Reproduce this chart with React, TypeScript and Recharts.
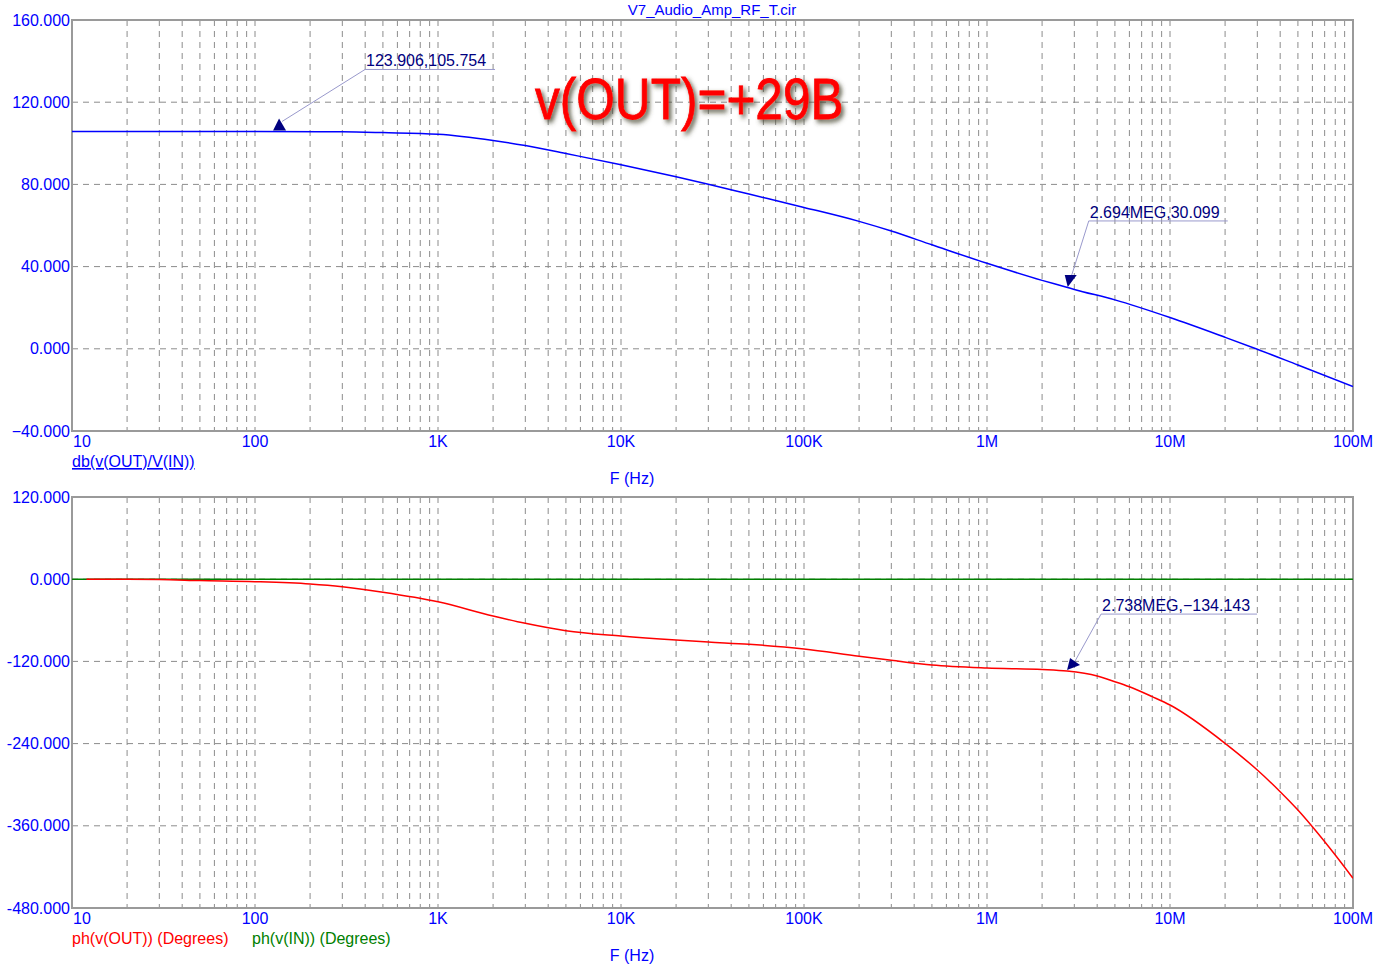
import {
  LineChart,
  Line,
  XAxis,
  YAxis,
  CartesianGrid,
  ReferenceArea,
  ReferenceDot,
} from "recharts";

// decades of the log frequency axis and their labels
const decadeTicks = [10, 100, 1e3, 1e4, 1e5, 1e6, 1e7, 1e8];
const decadeLabels = ["10", "100", "1K", "10K", "100K", "1M", "10M", "100M"];
const minorSteps = [1, 2, 3, 4, 5, 6, 7, 8, 9];

const gainTicks = [-40, 0, 40, 80, 120, 160];
const phaseTicks = [-480, -360, -240, -120, 0, 120];

// db(v(OUT)/V(IN))
const gainFreq = [
  10, 30, 100, 300, 500, 1e3, 2e3, 3e3, 5e3, 1e4, 2e4, 3e4, 5e4, 1e5, 2e5,
  3e5, 5e5, 1e6, 2e6, 2.694e6, 3e6, 5e6, 1e7, 2e7, 3e7, 5e7, 1e8,
];
const gainDb = [
  105.75, 105.75, 105.75, 105.6, 105.2, 104.4, 101.4, 98.9, 95.0, 89.6, 83.7,
  80.1, 75.3, 68.8, 62.0, 57.3, 50.6, 41.6, 33.3, 30.1, 28.9, 23.8, 15.2, 5.6,
  -0.2, -7.9, -18.4,
];

// ph(v(OUT))
const phaseFreq = [
  12, 30, 50, 100, 200, 300, 500, 1e3, 2e3, 3e3, 5e3, 1e4, 2e4, 3e4, 5e4, 1e5,
  2e5, 3e5, 5e5, 1e6, 2e6, 2.738e6, 4e6, 5e6, 6e6, 8e6, 1e7, 2e7, 3e7, 4e7,
  5e7, 6e7, 8e7, 1e8,
];
const phaseOut = [
  0, -0.5, -2, -3.6, -7, -11, -19, -33, -53.7, -64.4, -75.2, -82.9, -88.8,
  -91.7, -95, -101.9, -112.6, -118.4, -125.3, -129.7, -131.8, -134.1, -141.3,
  -149.6, -157, -171.5, -183.7, -239.6, -278.6, -310.2, -337, -361.4, -402.7,
  -436.7,
];

// ph(v(IN))
const inFreq = [10, 1e3, 1e5, 1e7, 1e8];
const phaseIn = [0, 0, 0, 0, 0];

const gainData = gainFreq.map((f, i) => ({ f, db: gainDb[i] }));
const outData = phaseFreq.map((f, i) => ({ f, out: phaseOut[i] }));
const inData = inFreq.map((f, i) => ({ f, inp: phaseIn[i] }));

const gridTicks = decadeTicks.flatMap((d, i) =>
  i === decadeTicks.length - 1 ? [d] : minorSteps.map((m) => m * d)
);

const FONT = "'Liberation Sans', Arial, sans-serif";
const BLUE = "#0000ff";
const NAVY = "#000080";
const GRID = "#8c8c8c";

const XTick = (props: any) => {
  const { x, y, payload } = props;
  const idx = decadeTicks.indexOf(payload.value);
  if (idx < 0) return <g />;
  const first = idx === 0;
  return (
    <text
      x={first ? x + 1 : x}
      y={y + 16}
      textAnchor={first ? "start" : "middle"}
      fill={BLUE}
      fontSize={16}
      fontFamily={FONT}
    >
      {decadeLabels[idx]}
    </text>
  );
};

const yFmt = (minus: string) => (v: number) =>
  v < 0 ? minus + Math.abs(v).toFixed(3) : v.toFixed(3);

// marker + leader + label, offsets in px from the data point
const marker =
  (label: string, tri: number[][], lead: number[], lineEnd: number) =>
  (props: any) => {
    const { cx, cy } = props;
    const pts = tri.map(([dx, dy]) => `${cx + dx},${cy + dy}`).join(" ");
    const [x1, y1, x2, y2] = lead;
    return (
      <g>
        <polygon points={pts} fill={NAVY} />
        <line x1={cx + x1} y1={cy + y1} x2={cx + x2} y2={cy + y2} stroke="#9999cc" strokeWidth={1} />
        <line x1={cx + x2} y1={cy + y2} x2={cx + lineEnd} y2={cy + y2} stroke="#9999cc" strokeWidth={1} />
        <text x={cx + x2 + 1} y={cy + y2 - 3} fill={NAVY} fontSize={16} fontFamily={FONT}>
          {label}
        </text>
      </g>
    );
  };

function Panel(props: {
  top: number;
  height: number;
  mTop: number;
  mBottom: number;
  yTicks: number[];
  minus: string;
  children: any;
}) {
  const { top, height, mTop, mBottom, yTicks, minus, children } = props;
  const lo = yTicks[0];
  const hi = yTicks[yTicks.length - 1];
  return (
    <div style={{ position: "absolute", left: 0, top }}>
      <LineChart width={1388} height={height} margin={{ top: mTop, right: 35, bottom: mBottom, left: 0 }}>
        <CartesianGrid stroke={GRID} strokeDasharray="6 5" />
        <XAxis
          dataKey="f"
          type="number"
          scale="log"
          domain={[10, 1e8]}
          ticks={gridTicks}
          interval={0}
          allowDataOverflow
          tick={<XTick />}
          tickLine={false}
          axisLine={false}
          tickSize={0}
          tickMargin={0}
          height={25}
        />
        <YAxis
          type="number"
          domain={[lo, hi]}
          ticks={yTicks}
          width={72}
          tickLine={false}
          axisLine={false}
          tickSize={0}
          tickMargin={2}
          tickFormatter={yFmt(minus)}
          tick={{ fill: BLUE, fontSize: 16, fontFamily: FONT }}
        />
        <ReferenceArea x1={10} x2={1e8} y1={lo} y2={hi} fill="none" stroke="#9a9a9a" strokeWidth={2} />
        {children}
      </LineChart>
    </div>
  );
}

export default function App() {
  return (
    <div style={{ position: "fixed", left: 0, top: 0, width: 1388, height: 973, background: "#fff", fontFamily: FONT }}>
      <Panel top={0} height={480} mTop={20} mBottom={24} yTicks={gainTicks} minus={"\u2212"}>
        <Line data={gainData} dataKey="db" type="monotone" stroke="#0000ff" strokeWidth={1.5} dot={false} isAnimationActive={false} />
        <ReferenceDot
          x={123.906}
          y={105.754}
          r={0}
          shape={marker("123.906,105.754", [[1, -1], [14, -1], [7, -13]], [10, -10, 93, -62], 223)}
        />
        <ReferenceDot
          x={2.694e6}
          y={30.099}
          r={0}
          shape={marker("2.694MEG,30.099", [[-1, -12], [11, -12], [2, 0]], [6, -12, 23, -66], 162)}
        />
      </Panel>
      <Panel top={480} height={493} mTop={17} mBottom={40} yTicks={phaseTicks} minus="-">
        <Line data={inData} dataKey="inp" type="linear" stroke="#008000" strokeWidth={1.5} dot={false} isAnimationActive={false} />
        <Line data={outData} dataKey="out" type="monotone" stroke="#ff0000" strokeWidth={1.5} dot={false} isAnimationActive={false} />
        <ReferenceDot
          x={2.738e6}
          y={-134.143}
          r={0}
          shape={marker("2.738MEG,\u2212134.143", [[0, -1], [3, -13], [13, -6]], [8, -10, 34, -57], 190)}
        />
      </Panel>
      <svg width={1388} height={973} style={{ position: "absolute", left: 0, top: 0, pointerEvents: "none" }}>
        <defs>
          <filter id="shadow" x="-10%" y="-20%" width="120%" height="150%">
            <feDropShadow dx="3" dy="3" stdDeviation="2.5" floodColor="#4a4a30" floodOpacity="0.85" />
          </filter>
        </defs>
        <text x={712} y={15} textAnchor="middle" fill={BLUE} fontSize={15} fontFamily={FONT}>
          V7_Audio_Amp_RF_T.cir
        </text>
        <text
          x={535}
          y={119}
          fill="#ff0000"
          stroke="#ff0000"
          strokeWidth={0.8}
          fontSize={57}
          fontFamily={FONT}
          filter="url(#shadow)"
          transform="translate(535 0) scale(0.87 1) translate(-535 0)"
        >
          v(OUT)=+29B
        </text>
        <text x={72} y={467} fill={BLUE} fontSize={16} fontFamily={FONT} textDecoration="underline">
          db(v(OUT)/V(IN))
        </text>
        <text x={632} y={484} textAnchor="middle" fill={BLUE} fontSize={16} fontFamily={FONT}>
          F (Hz)
        </text>
        <text x={72} y={944} fill="#ff0000" fontSize={16} fontFamily={FONT}>
          ph(v(OUT)) (Degrees)
        </text>
        <text x={252} y={944} fill="#008000" fontSize={16} fontFamily={FONT}>
          ph(v(IN)) (Degrees)
        </text>
        <text x={632} y={961} textAnchor="middle" fill={BLUE} fontSize={16} fontFamily={FONT}>
          F (Hz)
        </text>
      </svg>
    </div>
  );
}
